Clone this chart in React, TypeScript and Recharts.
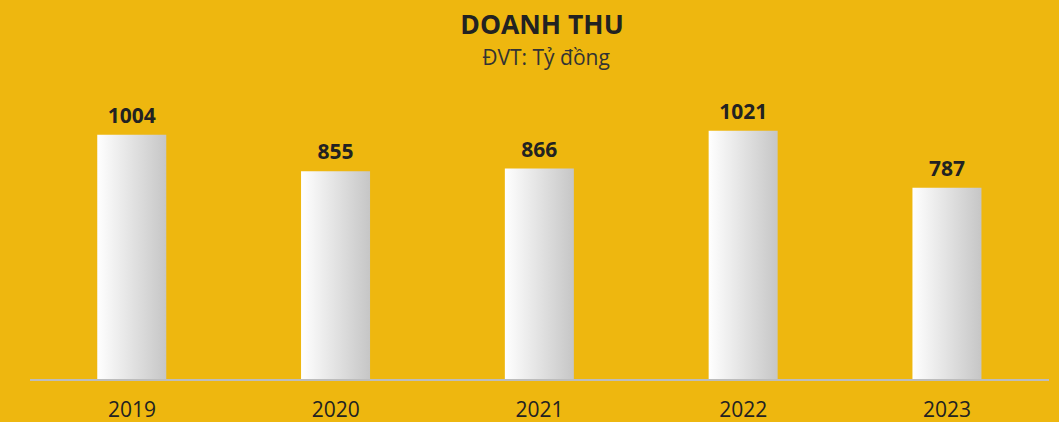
import { BarChart, Bar, XAxis, YAxis, LabelList } from 'recharts';

const years = ['2019', '2020', '2021', '2022', '2023'];
const revenue = [1004, 855, 866, 1021, 787];

const data = years.map((year, i) => ({ year, value: revenue[i] }));

const FONT = '"Open Sans", "Noto Sans", sans-serif';
const BG = '#EEB70F';

export default function App() {
  return (
    <div style={{ position: 'absolute', left: 0, top: 0, width: 1059, height: 422, background: BG, fontFamily: FONT, overflow: 'hidden' }}>
      <BarChart
        width={1059}
        height={422}
        data={data}
        margin={{ top: 87, right: 10, left: 30, bottom: 0 }}
        barCategoryGap="33%"
      >
        <defs>
          <linearGradient id="barFill" x1="0" y1="0" x2="1" y2="0">
            <stop offset="0%" stopColor="#ffffff" />
            <stop offset="100%" stopColor="#c6c6c6" />
          </linearGradient>
        </defs>
        <XAxis
          dataKey="year"
          tickLine={false}
          axisLine={{ stroke: '#bdbdbd', strokeWidth: 2 }}
          tick={{ fontSize: 21, fill: '#222', fontFamily: FONT }}
          tickMargin={16}
          height={42}
          interval={0}
        />
        <YAxis hide domain={[0, 1200]} />
        <Bar dataKey="value" fill="url(#barFill)" isAnimationActive={false}>
          <LabelList
            dataKey="value"
            position="top"
            offset={12}
            style={{ fontSize: 21, fontWeight: 700, fill: '#222', fontFamily: FONT }}
          />
        </Bar>
      </BarChart>
      <svg width={1059} height={80} style={{ position: 'absolute', left: 0, top: 0, pointerEvents: 'none' }}>
        <text x={542} y={34} textAnchor="middle" fontSize={26.5} fontWeight={700} fill="#222" fontFamily={FONT}>
          DOANH THU
        </text>
        <text x={546} y={65} textAnchor="middle" fontSize={21} fill="#333" fontFamily={FONT}>
          ĐVT: Tỷ đồng
        </text>
      </svg>
    </div>
  );
}
